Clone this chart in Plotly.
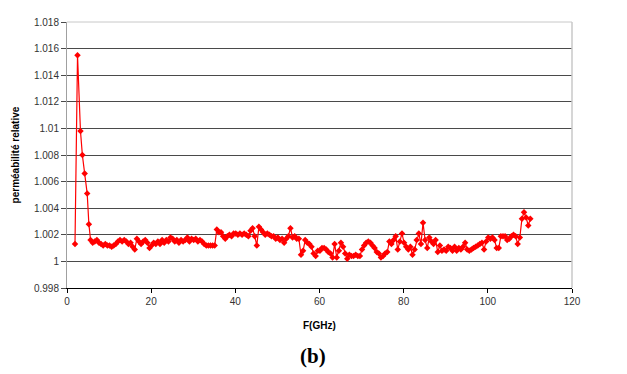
import plotly.graph_objects as go

# Initial resonance points (GHz, relative permeability)
f_start = [1.9, 2.5, 3.2, 3.65, 4.2, 4.8, 5.2]
mu_start = [1.0013, 1.0155, 1.0098, 1.0080, 1.0066, 1.0051, 1.0028]

# Sweep from 5.6 GHz with 0.5 GHz step
sweep_f0 = 5.6
sweep_step = 0.5
mu_sweep = [
    1.0016, 1.0014, 1.0015, 1.0016, 1.0014, 1.0013, 1.0012, 1.0013, 1.0012, 1.0012,
    1.0011, 1.0012, 1.0013, 1.0015, 1.0016, 1.0015, 1.0016, 1.0015, 1.0013, 1.0014,
    1.0011, 1.0009, 1.0017, 1.0015, 1.0013, 1.0015, 1.0016, 1.0014, 1.0010, 1.0012,
    1.0014, 1.0013, 1.0015, 1.0013, 1.0016, 1.0014, 1.0016, 1.0015, 1.0018, 1.0017,
    1.0015, 1.0016, 1.0014, 1.0016, 1.0015, 1.0016, 1.0018, 1.0015, 1.0017, 1.0016,
    1.0017, 1.0015, 1.0016, 1.0015, 1.0013, 1.0012, 1.0012, 1.0012, 1.0012, 1.0012,
    1.0024, 1.0022, 1.0022, 1.0019, 1.0017, 1.0019, 1.0020, 1.0019, 1.0021, 1.0021,
    1.0020, 1.0021, 1.0020, 1.0021, 1.0020, 1.0019, 1.0023, 1.0025, 1.0019, 1.0012,
    1.0026, 1.0024, 1.0022, 1.0020, 1.0021, 1.0020, 1.0019, 1.0019, 1.0017, 1.0018,
    1.0016, 1.0017, 1.0014, 1.0017, 1.0019, 1.0025, 1.0018, 1.0019, 1.0017, 1.0017,
    1.0005, 1.0008, 1.0016, 1.0014, 1.0013, 1.0011, 1.0006, 1.0004, 1.0008, 1.0008,
    1.0010, 1.0010, 1.0009, 1.0007, 1.0006, 1.0003, 1.0013, 1.0003, 1.0008, 1.0014,
    1.0011, 1.0006, 1.0002, 1.0005, 1.0004, 1.0004, 1.0005, 1.0004, 1.0004, 1.0009,
    1.0012, 1.0014, 1.0015, 1.0014, 1.0012, 1.0010, 1.0007, 1.0006, 1.0003, 1.0004,
    1.0006, 1.0007, 1.0015, 1.0013, 1.0016, 1.0019, 1.0009, 1.0015, 1.0021, 1.0014,
    1.0011, 1.0009, 1.0011, 1.0005, 1.0009, 1.0016, 1.0021, 1.0013, 1.0029, 1.0016,
    1.0010, 1.0018, 1.0015, 1.0013, 1.0016, 1.0007, 1.0012, 1.0008, 1.0009, 1.0008,
    1.0011, 1.0010, 1.0008, 1.0011, 1.0008, 1.0010, 1.0009, 1.0011, 1.0014, 1.0009,
    1.0008, 1.0009, 1.0010, 1.0011, 1.0012, 1.0013, 1.0014, 1.0009, 1.0015, 1.0018,
    1.0017, 1.0018, 1.0016, 1.0010, 1.0010, 1.0019, 1.0019, 1.0019, 1.0016, 1.0017,
    1.0019, 1.0020, 1.0019, 1.0013, 1.0018, 1.0032, 1.0037, 1.0033, 1.0027, 1.0032,
]
f_sweep = [round(sweep_f0 + sweep_step * i, 2) for i in range(len(mu_sweep))]

freq = f_start + f_sweep
mu = mu_start + mu_sweep

y_ticks = [0.998, 1.0, 1.002, 1.004, 1.006, 1.008, 1.01, 1.012, 1.014, 1.016, 1.018]
y_ticktext = ["0.998", "1", "1.002", "1.004", "1.006", "1.008", "1.01", "1.012", "1.014", "1.016", "1.018"]
x_ticks = [0, 20, 40, 60, 80, 100, 120]

fig = go.Figure()
fig.add_trace(go.Scatter(
    x=freq, y=mu, mode="lines+markers",
    line=dict(color="#ff0000", width=1.2),
    marker=dict(symbol="diamond", size=5, color="#ff0000"),
    showlegend=False,
))

tick_font = dict(family="Liberation Sans, Arial, sans-serif", size=10, color="#333333")

fig.update_layout(
    width=627, height=374,
    margin=dict(l=59, r=63, t=8, b=94),
    paper_bgcolor="white", plot_bgcolor="white",
    xaxis=dict(
        range=[0, 120], tickvals=x_ticks, showgrid=False, zeroline=False,
        showline=True, linecolor="#000000", linewidth=1,
        ticks="outside", ticklen=4, tickcolor="#000000", tickfont=tick_font,
    ),
    yaxis=dict(
        range=[0.998, 1.018], tickvals=y_ticks, ticktext=y_ticktext,
        showgrid=True, gridcolor="#4a4a4a", gridwidth=1, zeroline=False,
        showline=True, linecolor="#a0a0a0", linewidth=1,
        ticks="outside", ticklen=5, tickcolor="#4a4a4a", tickfont=tick_font,
    ),
    shapes=[
        dict(type="line", xref="paper", yref="paper", x0=0, x1=1, y0=1, y1=1,
             line=dict(color="#c8c8c8", width=1)),
        dict(type="line", xref="paper", yref="paper", x0=1, x1=1, y0=0, y1=1,
             line=dict(color="#c8c8c8", width=1.5)),
    ],
    annotations=[
        dict(text="<b>perméabilité relative</b>", xref="paper", yref="paper",
             x=-0.117, y=0.5, textangle=-90, showarrow=False,
             font=dict(family="Liberation Sans, Arial, sans-serif", size=10, color="#000000")),
        dict(text="<b>F(GHz)</b>", xref="paper", yref="paper",
             x=0.5, y=-0.169, showarrow=False,
             font=dict(family="Liberation Sans, Arial, sans-serif", size=10, color="#000000")),
        dict(text="<b>(b)</b>", xref="paper", yref="paper",
             x=0.488, y=-0.31, showarrow=False,
             font=dict(family="Liberation Serif, Times New Roman, serif", size=21, color="#000000")),
    ],
)

fig.write_html("out.html")
